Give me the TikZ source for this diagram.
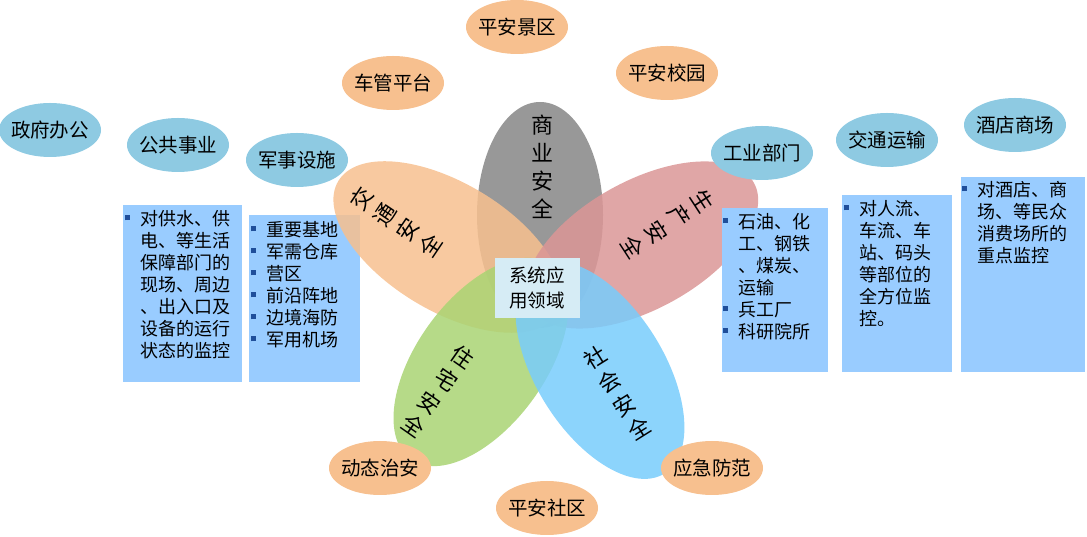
\documentclass[tikz,border=0pt]{standalone}
\usepackage{fontspec}
\setmainfont{Noto Sans CJK SC}
\usetikzlibrary{shapes.geometric}
\definecolor{orn}{HTML}{F7C08F}
\definecolor{blu}{HTML}{8ECAE2}
\definecolor{boxc}{HTML}{99CCFF}
\definecolor{bulc}{HTML}{1F4E9A}
\newcommand{\bul}{\makebox[15pt][l]{\raisebox{5pt}{\textcolor{bulc}{\rule{5pt}{5pt}}}}}
\newcommand{\ind}{\hspace*{15pt}}
\begin{document}
\begin{tikzpicture}[x=1pt,y=1pt,
  oel/.style={ellipse,minimum width=102pt,minimum height=54pt,inner sep=-7pt,font=\fontsize{19.5}{22}\selectfont},
  oo/.style={oel,fill=orn},
  bb/.style={oel,fill=blu},
  bx/.style={fill=boxc,inner sep=0pt,anchor=north west},
  bt/.style={anchor=north west,align=left,inner sep=0pt,font=\fontsize{18}{22}\selectfont},
  pet/.style={fill opacity=0.85,draw=none},
  pt/.style={align=center,inner sep=0pt,font=\fontsize{22}{28}\selectfont}]
\path[use as bounding box] (0,0) rectangle (1087,537);
% boxes under petals
\node[bx,minimum width=119pt,minimum height=177pt] (b1) at (123,332) {};
\node[bx,minimum width=111pt,minimum height=167pt] (b2) at (249,322) {};
\node[bt] (t1) at (125,327) {\bul 对供水、供\\\ind 电、等生活\\\ind 保障部门的\\\ind 现场、周边\\\ind 、出入口及\\\ind 设备的运行\\\ind 状态的监控};
\node[bt] (t2) at (251,316) {\bul 重要基地\\\bul 军需仓库\\\bul 营区\\\bul 前沿阵地\\\bul 边境海防\\\bul 军用机场};
% petals
\fill[pet,fill=gray!95] (540,322) ellipse [x radius=63, y radius=113];
\fill[pet,fill=orn,rotate around={-31:(448,290)}] (448,290) ellipse [x radius=128, y radius=64];
\fill[pet,fill={rgb,255:red,219;green,150;blue,150}] [rotate around={29:(642,292)}] (642,292) ellipse [x radius=128, y radius=64];
\fill[pet,fill={rgb,255:red,169;green,212;blue,115}] [rotate around={54:(481,175)}] (481,175) ellipse [x radius=120, y radius=64];
\fill[pet,fill={rgb,255:red,120;green,204;blue,252}] [rotate around={-58:(600,167)}] (600,167) ellipse [x radius=122, y radius=64];
\node[pt] (p1) at (542,370) {商\\业\\安\\全};
\node[pt,rotate=56] (p2) at (396,315) {交\\通\\安\\全};
\node[pt,rotate=-57] (p3) at (668,313) {生\\产\\安\\全};
\node[pt,rotate=-35] (p4) at (438,146) {住\\宅\\安\\全};
\node[pt,rotate=32] (p5) at (617,144) {社\\会\\安\\全};
\node[fill={rgb,255:red,214;green,236;blue,245},minimum width=85pt,minimum height=60pt,inner sep=0pt,align=center,font=\fontsize{18.5}{25}\selectfont] (c) at (537,249) {系统应\\用领域};
% boxes over petals
\node[bx,minimum width=106pt,minimum height=164pt] (b3) at (722,329) {};
\node[bx,minimum width=110pt,minimum height=177pt] (b4) at (842,342) {};
\node[bx,minimum width=124pt,minimum height=195pt] (b5) at (961,360) {};
\node[bt] (t3) at (723,324) {\bul 石油、化\\\ind 工、钢铁\\\ind 、煤炭、\\\ind 运输\\\bul 兵工厂\\\bul 科研院所};
\node[bt] (t4) at (844,337) {\bul 对人流、\\\ind 车流、车\\\ind 站、码头\\\ind 等部位的\\\ind 全方位监\\\ind 控。};
\node[bt] (t5) at (962,356) {\bul 对酒店、商\\\ind 场、等民众\\\ind 消费场所的\\\ind 重点监控};
% outer ellipses
\node[bb] (e1) at (50,407) {政府办公};
\node[bb] (e2) at (178,392) {公共事业};
\node[bb] (e3) at (297,377) {军事设施};
\node[oo] (e4) at (393,454) {车管平台};
\node[oo] (e5) at (517,510) {平安景区};
\node[oo] (e6) at (667,464) {平安校园};
\node[bb] (e7) at (762,384) {工业部门};
\node[bb] (e8) at (887,397) {交通运输};
\node[bb] (e9) at (1015,412) {酒店商场};
\node[oo] (e10) at (380,69) {动态治安};
\node[oo] (e11) at (547,29) {平安社区};
\node[oo] (e12) at (712,69) {应急防范};
\end{tikzpicture}
\end{document}
